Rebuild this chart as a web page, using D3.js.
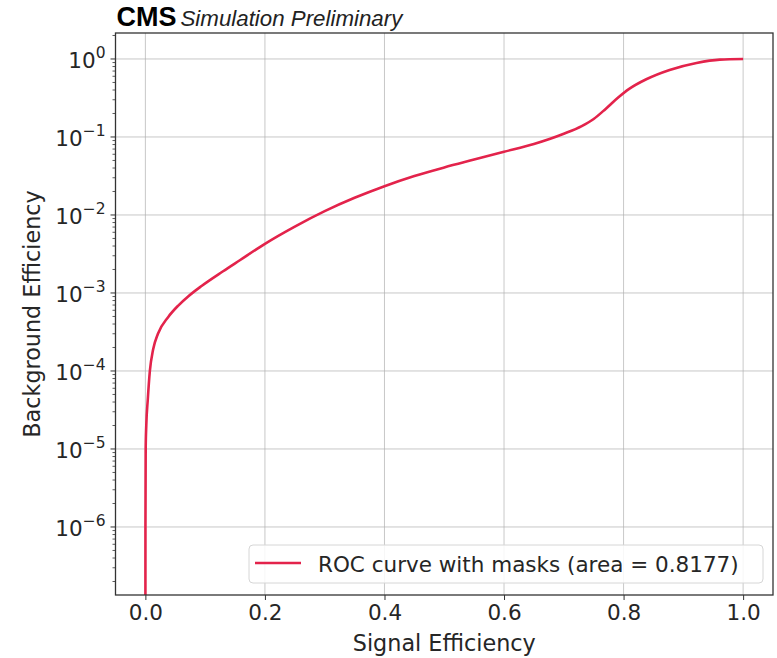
<!DOCTYPE html>
<html>
<head>
<meta charset="utf-8">
<script src="https://cdn.jsdelivr.net/npm/d3@7"></script>
<style>
  html, body { margin: 0; padding: 0; background: #fff; }
  svg { display: block; }
  text { font-family: "DejaVu Sans", sans-serif; fill: #262626; }
</style>
</head>
<body>
<svg id="chart" width="777" height="658"></svg>
<script>
// ROC curve: signal efficiency vs background efficiency
const signalEff = [0, 0.0001, 0.0005, 0.0015, 0.004, 0.0075, 0.013, 0.021, 0.038, 0.055, 0.072, 0.094,
  0.130, 0.158, 0.200, 0.250, 0.300, 0.350, 0.400, 0.450, 0.500, 0.550, 0.600, 0.650, 0.700,
  0.730, 0.750, 0.770, 0.790, 0.810, 0.838, 0.877, 0.922, 0.961, 1.0];
const backgroundEff = [1e-8, 1e-6, 1e-5, 2e-5, 4.3e-5, 1.0e-4, 1.9e-4, 3.0e-4, 4.9e-4, 6.9e-4, 9.1e-4, 1.23e-3,
  1.9e-3, 2.63e-3, 4.27e-3, 7.1e-3, 1.12e-2, 1.66e-2, 2.34e-2, 3.16e-2, 4.07e-2, 5.13e-2, 6.46e-2, 8.13e-2, 1.10e-1,
  1.38e-1, 1.70e-1, 2.29e-1, 3.16e-1, 4.17e-1, 5.5e-1, 7.24e-1, 8.9e-1, 0.982, 1.0];
const xTicks = [0, 0.2, 0.4, 0.6, 0.8, 1.0];
const yExponents = [0, -1, -2, -3, -4, -5, -6];
const legendLabel = "ROC curve with masks (area = 0.8177)";

const svg = d3.select("#chart");
const L = 115.5, R = 773, T = 33, B = 595;

const x = d3.scaleLinear().domain([-0.05, 1.05]).range([L, R]);
const y = d3.scaleLog().domain([Math.pow(10, -6.872), Math.pow(10, 0.333)]).range([B, T]);

svg.append("defs").append("clipPath").attr("id", "plotclip")
  .append("rect").attr("x", L).attr("y", T).attr("width", R - L).attr("height", B - T);

// grid
const grid = svg.append("g").attr("stroke", "#b0b0b0").attr("stroke-opacity", 0.7).attr("stroke-width", 1);
xTicks.forEach(t => grid.append("line").attr("x1", x(t)).attr("x2", x(t)).attr("y1", T).attr("y2", B));
yExponents.forEach(e => grid.append("line").attr("x1", L).attr("x2", R)
  .attr("y1", y(Math.pow(10, e))).attr("y2", y(Math.pow(10, e))));

// curve
const pts = signalEff.map((s, i) => [s, backgroundEff[i]]);
const line = d3.line().x(d => x(d[0])).y(d => y(d[1])).curve(d3.curveMonotoneX);
svg.append("path").datum(pts).attr("clip-path", "url(#plotclip)")
  .attr("d", line).attr("fill", "none").attr("stroke", "#e3234b").attr("stroke-width", 2.6)
  .attr("stroke-linejoin", "round");

// x axis
const xAxis = d3.axisBottom(x).tickValues(xTicks).tickFormat(d3.format(".1f")).tickSize(5).tickPadding(5);
const gx = svg.append("g").attr("transform", `translate(0,${B})`).call(xAxis);
gx.select(".domain").remove();
gx.selectAll(".tick line").attr("stroke", "#333").attr("stroke-width", 1);
gx.selectAll(".tick text").attr("font-size", 21.5).attr("fill", "#262626")
  .style("font-family", "DejaVu Sans, sans-serif");

// y axis: minor ticks
const minor = [];
for (let e = -7; e <= 0; e++) for (let m = 2; m <= 9; m++) {
  const v = m * Math.pow(10, e);
  if (v >= y.domain()[0] && v <= y.domain()[1]) minor.push(v);
}
const gy = svg.append("g");
gy.selectAll("line.minor").data(minor).join("line").attr("class", "minor")
  .attr("x1", L - 3).attr("x2", L).attr("y1", d => y(d)).attr("y2", d => y(d))
  .attr("stroke", "#333").attr("stroke-width", 0.8);
gy.selectAll("line.major").data(yExponents).join("line").attr("class", "major")
  .attr("x1", L - 5).attr("x2", L).attr("y1", d => y(Math.pow(10, d))).attr("y2", d => y(Math.pow(10, d)))
  .attr("stroke", "#333").attr("stroke-width", 1);
const yl = gy.selectAll("text.ylab").data(yExponents).join("text").attr("class", "ylab")
  .attr("x", L - 10).attr("y", d => y(Math.pow(10, d)) + 9)
  .attr("text-anchor", "end").attr("font-size", 21.5);
yl.append("tspan").text("10");
yl.append("tspan").attr("dy", -10).attr("font-size", 15.5)
  .text(d => d === 0 ? "0" : "\u2212" + Math.abs(d));

// spines
svg.append("rect").attr("x", L).attr("y", T).attr("width", R - L).attr("height", B - T)
  .attr("fill", "none").attr("stroke", "#333").attr("stroke-width", 1.3);

// axis labels
svg.append("text").attr("x", (L + R) / 2).attr("y", 651).attr("text-anchor", "middle")
  .attr("font-size", 22.3).text("Signal Efficiency");
svg.append("text").attr("transform", `translate(40,${(T + B) / 2}) rotate(-90)`)
  .attr("text-anchor", "middle").attr("font-size", 22.3).text("Background Efficiency");

// header
const hdr = svg.append("text").attr("x", L + 1).attr("y", 26);
hdr.append("tspan").attr("font-family", "Liberation Sans, Arial, sans-serif").attr("font-weight", "bold")
  .attr("font-size", 27).attr("letter-spacing", 0).style("fill", "#000").text("CMS");
hdr.append("tspan").attr("dx", 4).attr("font-family", "Liberation Sans, Arial, sans-serif").attr("font-style", "italic")
  .attr("font-size", 22.3).style("fill", "#222").text("Simulation Preliminary");

// legend
const lg = svg.append("g");
lg.append("rect").attr("x", 249).attr("y", 545).attr("width", 514).attr("height", 38).attr("rx", 4)
  .attr("fill", "#fff").attr("fill-opacity", 0.85).attr("stroke", "#d6d6d6").attr("stroke-width", 1);
lg.append("line").attr("x1", 255).attr("x2", 301).attr("y1", 563).attr("y2", 563)
  .attr("stroke", "#e3234b").attr("stroke-width", 2.6);
lg.append("text").attr("x", 318).attr("y", 571.5).attr("font-size", 21.5).text(legendLabel);
</script>
</body>
</html>
